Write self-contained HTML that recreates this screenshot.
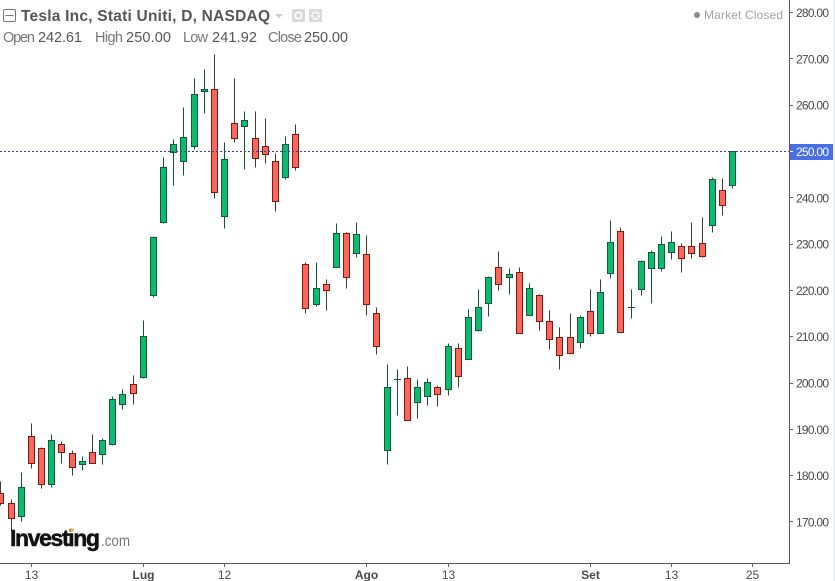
<!DOCTYPE html>
<html lang="it">
<head>
<meta charset="utf-8">
<title>Tesla Inc chart</title>
<style>
html,body{margin:0;padding:0;background:#fff;}
#wrap{position:relative;width:835px;height:581px;overflow:hidden;background:#fff;}
svg{position:absolute;left:0;top:0;}
text{font-family:"Liberation Sans",sans-serif;}
</style>
</head>
<body>
<div id="wrap">
<svg id="chart" width="835" height="581" viewBox="0 0 835 581">
  <rect x="833" y="0" width="2" height="581" fill="#eef1f6"/>
  <g id="candles"></g>
  <line id="last-line" x1="0" x2="789" stroke="#3d3d9c" stroke-width="1" stroke-dasharray="2 2"/>
  <line x1="789.5" y1="0" x2="789.5" y2="564" stroke="#555" stroke-width="1"/>
  <line x1="0" y1="563.5" x2="790" y2="563.5" stroke="#555" stroke-width="1"/>
  <g id="y-axis"></g>
  <g id="x-axis"></g>

  <rect x="3.5" y="9.5" width="12" height="12" rx="1.5" fill="#fff" stroke="#777"/>
  <line x1="5.5" y1="15.5" x2="13.5" y2="15.5" stroke="#777"/>
  <text x="21" y="21" font-size="15.5" font-weight="bold" fill="#555" textLength="249" lengthAdjust="spacing">Tesla Inc, Stati Uniti, D, NASDAQ</text>
  <polygon points="275,14 283,14 279,18" fill="#ccc"/>
  <rect x="292" y="9" width="13" height="13" fill="#d9d9d9"/>
  <circle cx="298.5" cy="15.5" r="3.2" fill="none" stroke="#fff" stroke-width="1.6"/>
  <rect x="309" y="9" width="13" height="13" fill="#d9d9d9"/>
  <circle cx="315.5" cy="15.5" r="3.4" fill="none" stroke="#fff" stroke-width="2.2" stroke-dasharray="2 1"/>

  <g font-size="14.5">
    <text x="3" y="42" fill="#777" textLength="32">Open</text>
    <text x="38" y="42" fill="#555" textLength="44">242.61</text>
    <text x="95" y="42" fill="#777" textLength="28">High</text>
    <text x="126" y="42" fill="#555" textLength="45">250.00</text>
    <text x="183" y="42" fill="#777" textLength="25">Low</text>
    <text x="212" y="42" fill="#555" textLength="45">241.92</text>
    <text x="268" y="42" fill="#777" textLength="34">Close</text>
    <text x="304" y="42" fill="#555" textLength="44">250.00</text>
  </g>

  <circle cx="697" cy="15" r="3" fill="#8a8a8a"/>
  <text x="704" y="19" font-size="12" fill="#a3a3a3" textLength="79">Market Closed</text>

  <g>
    <text x="10" y="546" font-size="23" font-weight="bold" fill="#111" stroke="#111" stroke-width="0.5" textLength="90" lengthAdjust="spacing">Investing</text>
    <text x="101" y="546" font-size="15.5" fill="#777" textLength="29" lengthAdjust="spacingAndGlyphs">.com</text>
    <circle cx="72" cy="530" r="1.8" fill="#f0b93a"/>
  </g>
</svg>
</div>
<script>
var opens  = [176.2,174.0,171.1,188.5,185.9,178.0,186.8,184.8,182.4,185.0,184.6,186.8,195.4,199.6,201.1,218.8,234.6,249.8,247.9,251.0,263.0,263.4,236.0,256.1,255.4,252.9,251.1,247.9,244.3,253.7,225.6,217.0,221.3,225.0,232.3,228.0,227.8,215.1,185.5,200.8,201.0,195.8,197.1,199.1,198.6,207.5,205.1,211.4,217.2,225.0,222.7,223.9,214.6,218.9,213.3,209.9,209.9,208.8,215.5,210.7,223.7,232.8,216.3,220.2,224.8,224.8,228.2,229.5,229.5,230.2,234.1,241.6,242.61];
var highs  = [178.8,174.9,180.7,191.3,186.1,188.9,187.4,185.5,184.2,188.9,188.0,197.0,198.5,201.7,213.4,231.6,248.6,252.5,259.6,265.8,267.8,271.0,252.0,265.8,258.7,258.7,257.2,249.6,253.3,255.9,226.1,226.1,222.4,234.5,232.6,234.7,231.9,216.3,204.0,203.0,203.6,200.8,201.0,199.5,208.6,208.6,215.9,220.1,223.0,228.4,224.8,225.0,221.5,219.1,215.7,212.0,215.1,214.6,220.1,222.4,235.1,233.6,220.1,226.5,228.6,231.7,232.8,230.2,234.7,235.8,244.4,244.2,250.0];
var lows   = [173.6,168.0,170.0,181.5,177.3,177.5,182.6,180.0,181.1,182.7,182.3,186.6,194.3,195.4,201.0,218.4,234.4,242.6,244.8,250.5,258.2,239.8,233.3,251.9,246.1,246.5,247.4,237.0,243.9,245.9,215.0,216.5,215.6,224.9,220.4,227.1,214.5,206.1,182.3,192.9,191.9,192.3,195.2,194.9,197.3,199.0,205.0,211.1,214.3,219.9,219.1,210.7,214.5,211.3,207.3,202.9,206.4,207.4,210.1,210.6,222.5,210.9,213.9,218.9,217.2,224.0,226.6,223.8,226.8,227.2,232.5,236.2,241.92];
var closes = [174.0,170.8,177.5,182.7,178.1,187.6,185.0,181.8,183.1,182.7,187.6,196.5,197.6,197.8,210.1,231.5,246.6,251.6,253.1,262.4,263.4,241.2,248.3,252.9,256.7,248.5,249.3,239.2,251.6,246.5,216.1,220.5,220.0,232.3,222.8,232.1,217.0,207.9,199.1,200.8,191.9,199.1,200.1,197.6,207.9,201.4,214.2,216.3,222.8,221.3,223.5,210.7,220.5,213.3,209.4,206.0,206.4,214.2,210.7,219.6,230.4,210.9,216.3,226.3,228.2,230.0,230.4,226.9,228.0,227.4,244.0,238.4,250.0];
var priceTicks = [280,270,260,250,240,230,220,210,200,190,180,170];
var timeTickLabels = ["13","Lug","12","Ago","13","Set","13","25"];
var timeTickCandles = [3,14,22,36,44,58,66,74];
var timeTickBold = [false,true,false,true,false,true,false,false];
var lastPrice = 250.0;

var NS = "http://www.w3.org/2000/svg";
function xPos(i){ return Math.floor(0.98 + 10.162 * i) + 0.5; }
function yRaw(v){ return 151.5 + (250 - v) * 4.63; }
function yPos(v){ return Math.floor(yRaw(v)) + 0.5; }
function make(tag, attrs, parent){
  var el = document.createElementNS(NS, tag);
  for (var k in attrs) { el.setAttribute(k, attrs[k]); }
  parent.appendChild(el);
  return el;
}

var candleGroup = document.getElementById("candles");
for (var i = 0; i < opens.length; i++) {
  var isUp = closes[i] >= opens[i];
  var cx = xPos(i);
  var borderColor = isUp ? "#14593c" : "#7c1a12";
  var wickColor = isUp ? "#1b4d3a" : "#3f3a2c";
  var fillColor = isUp ? "#0dbb6e" : "#fb665c";
  var bodyTop = yPos(Math.max(opens[i], closes[i]));
  var bodyBottom = yPos(Math.min(opens[i], closes[i]));

  var candle = make("g", {}, candleGroup);
  
  

  var wick = make("line", {x1: cx, x2: cx, y1: yPos(highs[i]), y2: yPos(lows[i]), stroke: wickColor, "stroke-width": 1}, candle);
  
  

  if (bodyBottom - bodyTop < 1) {
    var doji = make("line", {x1: cx - 3.5, x2: cx + 3.5, y1: bodyTop, y2: bodyTop, stroke: wickColor, "stroke-width": 1}, candle);
    
    
  } else {
    var bodyRect = make("rect", {x: cx - 3, y: bodyTop, width: 6, height: bodyBottom - bodyTop, fill: fillColor, stroke: borderColor, "stroke-width": 1}, candle);
    
    
  }
}

var lastLine = document.getElementById("last-line");
lastLine.setAttribute("y1", yPos(lastPrice));
lastLine.setAttribute("y2", yPos(lastPrice));

var yAxis = document.getElementById("y-axis");
for (var p = 0; p < priceTicks.length; p++) {
  var tickValue = priceTicks[p];
  var ty = yRaw(tickValue);
  var isLast = tickValue === lastPrice;
  if (isLast) {
    var badge = make("rect", {x: 790, y: ty - 7.5, width: 43, height: 16, fill: "#4a6fe3"}, yAxis);
    
    
  }
  var tick = make("line", {x1: 790, x2: 793, y1: Math.floor(ty) + 0.5, y2: Math.floor(ty) + 0.5, stroke: isLast ? "#fff" : "#666"}, yAxis);
  
  
  var priceLabel = make("text", {x: 796, y: ty + 4.5, "font-size": 12, fill: isLast ? "#fff" : "#4a4a4a", textLength: 33}, yAxis);
  
  
  priceLabel.textContent = tickValue.toFixed(2);
}

var xAxis = document.getElementById("x-axis");
for (var t = 0; t < timeTickLabels.length; t++) {
  var tx = xPos(timeTickCandles[t]);
  var xTick = make("line", {x1: tx, x2: tx, y1: 564, y2: 567, stroke: "#666"}, xAxis);
  
  
  var xLabel = make("text", {x: tx, y: 579, "font-size": 12, "text-anchor": "middle", fill: "#4a4a4a", "font-weight": timeTickBold[t] ? "bold" : "normal"}, xAxis);
  
  
  xLabel.textContent = timeTickLabels[t];
}
</script>
</body>
</html>
